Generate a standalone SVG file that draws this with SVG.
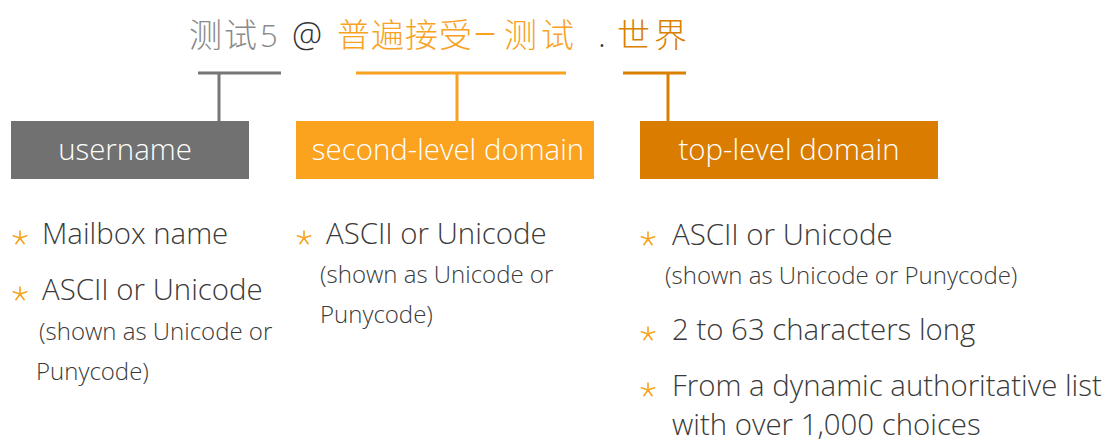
<svg xmlns="http://www.w3.org/2000/svg" width="1105" height="439" viewBox="0 0 1105 439">
<style>
.t{font-family:"Open Sans","Noto Sans CJK SC",sans-serif;font-weight:300}
.title{font-family:"Noto Sans CJK SC","Open Sans",sans-serif;font-weight:300;font-size:33px}
.lat{font-family:"Open Sans","Noto Sans CJK SC",sans-serif;font-weight:300}
.box{font-family:"Open Sans",sans-serif;font-weight:300;font-size:29.4px;fill:#ffffff}
.big{font-size:29.4px;fill:#3a3a3a}
.small{font-size:24px;fill:#3a3a3a}
.st{stroke:#f7a21e;stroke-width:1.6;stroke-linecap:round;fill:none}
</style>
<defs>
<g id="star">
<path class="st" d="M0,-7 L0,0 M0,0 L6.7,-2.2 M0,0 L-6.7,-2.2 M0,0 L4.1,5.7 M0,0 L-4.1,5.7"/>
</g>
</defs>
<g id="title">
<text class="title" x="189" y="47" fill="#8a8a8a" letter-spacing="2">测试</text>
<text class="lat" x="260" y="47" font-size="31" fill="#8a8a8a">5</text>
<text class="lat" x="292" y="47" font-size="34" fill="#333333">@</text>
<text class="title" x="337" y="47" fill="#f8a21f" letter-spacing="1">普遍接受</text>
<text class="lat" x="474" y="46" font-size="44" fill="#f8a21f">–</text>
<text class="title" x="504" y="47" fill="#f8a21f" letter-spacing="4">测试</text>
<text class="lat" x="598" y="47" font-size="33" fill="#333333">.</text>
<text class="title" x="617" y="47" fill="#d98000" letter-spacing="4">世界</text>
</g>
<g id="connectors">
<path d="M198,73 H281 M219,73 V121" stroke="#777777" stroke-width="3" fill="none"/>
<path d="M356,73 H566 M457,73 V121" stroke="#f8a21f" stroke-width="3" fill="none"/>
<path d="M623,73 H686 M668,73 V121" stroke="#d98000" stroke-width="3" fill="none"/>
</g>
<g id="username">
<rect x="11" y="121" width="238" height="58" fill="#707170"/>
<text class="box" x="125" y="160" text-anchor="middle">username</text>
</g>
<g id="second-level-domain">
<rect x="296" y="121" width="298" height="58" fill="#fba21f"/>
<text class="box" x="448" y="160" text-anchor="middle">second-level domain</text>
</g>
<g id="top-level-domain">
<rect x="640" y="121" width="298" height="58" fill="#d97c00"/>
<text class="box" x="789" y="160" text-anchor="middle">top-level domain</text>
</g>
<g id="username-notes">
<use href="#star" x="20" y="238"/>
<text class="t big" x="42" y="244">Mailbox name</text>
<use href="#star" x="20" y="294"/>
<text class="t big" x="42" y="300">ASCII or Unicode</text>
<text class="t small" x="39" y="340">(shown as Unicode or</text>
<text class="t small" x="36" y="380">Punycode)</text>
</g>
<g id="second-level-notes">
<use href="#star" x="304" y="238"/>
<text class="t big" x="326" y="244">ASCII or Unicode</text>
<text class="t small" x="320" y="283">(shown as Unicode or</text>
<text class="t small" x="320" y="323">Punycode)</text>
</g>
<g id="top-level-notes">
<use href="#star" x="648" y="239"/>
<text class="t big" x="672" y="245">ASCII or Unicode</text>
<text class="t small" x="665" y="284">(shown as Unicode or Punycode)</text>
<use href="#star" x="648" y="334"/>
<text class="t big" x="672" y="340">2 to 63 characters long</text>
<use href="#star" x="648" y="390"/>
<text class="t big" x="672" y="396">From a dynamic authoritative list</text>
<text class="t big" x="672" y="435">with over 1,000 choices</text>
</g>
</svg>
